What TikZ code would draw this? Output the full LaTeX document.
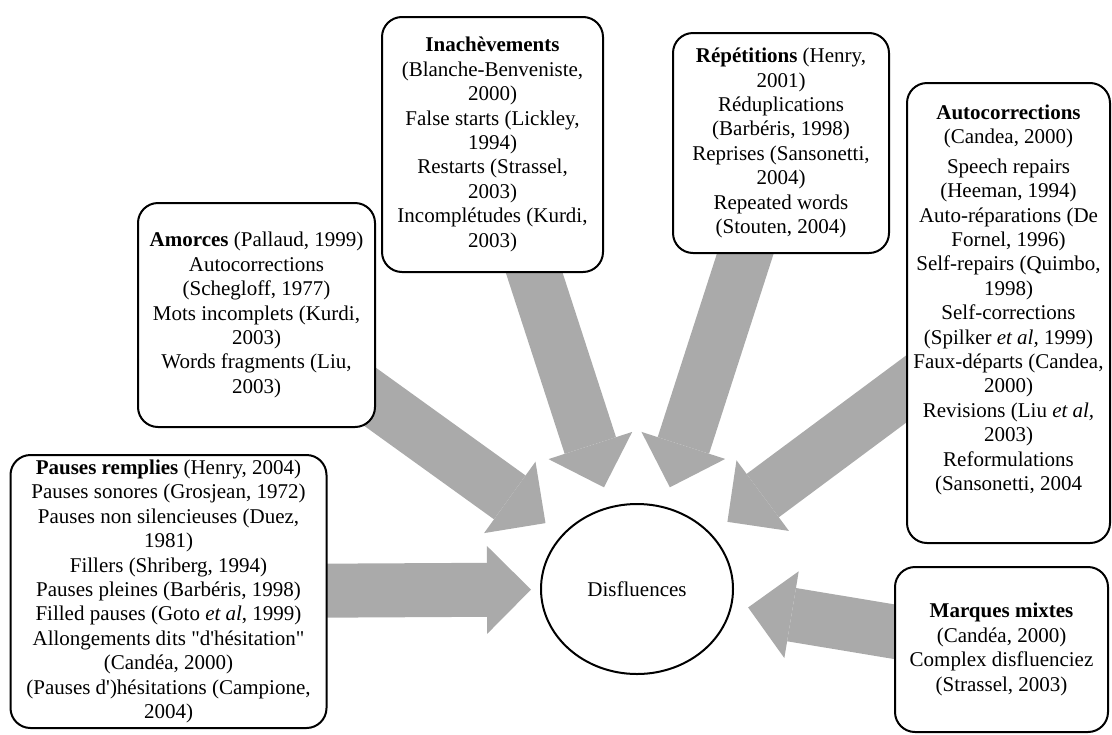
\documentclass[tikz,border=0pt]{standalone}
\usepackage{fontspec}
\setmainfont{Liberation Serif}
\usetikzlibrary{arrows.meta,shapes.geometric,backgrounds}
\definecolor{arrowgray}{RGB}{170,170,170}

\begin{document}
\begin{tikzpicture}[x=0.5pt, y=-0.5pt,
    font=\fontsize{10.5pt}{12.2pt}\selectfont,
    sourcebox/.style={draw, line width=1pt, rounded corners=10pt, fill=white, align=center, inner sep=2pt},
    bigarrow/.style={draw=arrowgray, line width=27pt, -{Triangle[length=22pt, width=44pt, line width=0pt]}, shorten >=10pt}]
    \useasboundingbox (0,0) rectangle (1112,734);

    % Central term
    \node[draw, ellipse, line width=1pt, fill=white, minimum width=96pt, minimum height=85pt] (disfl) at (637,589) {Disfluences};

    % Terms found in the literature
    \node[sourcebox, minimum width=158pt, minimum height=136.5pt] (pauses) at (168.5,591.5) {%
        \textbf{Pauses remplies} (Henry, 2004)\\
        Pauses sonores (Grosjean, 1972)\\
        Pauses non silencieuses (Duez,\\
        1981)\\
        Fillers (Shriberg, 1994)\\
        Pauses pleines (Barbéris, 1998)\\
        Filled pauses (Goto \textit{et al}, 1999)\\
        Allongements dits \textquotedbl d\textquotesingle hésitation\textquotedbl\\
        (Candéa, 2000)\\
        (Pauses d\textquotesingle)hésitations (Campione,\\
        2004)};

    \node[sourcebox, minimum width=118.5pt, minimum height=112pt] (amorces) at (256.5,315) {%
        \textbf{Amorces} (Pallaud, 1999)\\
        Autocorrections\\
        (Schegloff, 1977)\\
        Mots incomplets (Kurdi,\\
        2003)\\
        Words fragments (Liu,\\
        2003)};

    \node[sourcebox, minimum width=110.5pt, minimum height=127.5pt] (inach) at (492.5,144.5) {%
        \textbf{Inachèvements}\\
        (Blanche-Benveniste,\\
        2000)\\
        False starts (Lickley,\\
        1994)\\
        Restarts (Strassel,\\
        2003)\\
        Incomplétudes (Kurdi,\\
        2003)};

    \node[sourcebox, minimum width=108pt, minimum height=110pt] (repet) at (781,143) {%
        \textbf{Répétitions} (Henry,\\
        2001)\\
        Réduplications\\
        (Barbéris, 1998)\\
        Reprises (Sansonetti,\\
        2004)\\
        Repeated words\\
        (Stouten, 2004)};

    \node[sourcebox, minimum width=101.5pt, minimum height=230pt] (autoc) at (1008.5,313) {};
    \node[align=center, inner sep=0pt] (autoctext) at (1008.5,300) {%
        \textbf{Autocorrections}\\
        (Candea, 2000)\\[2.5pt]
        Speech repairs\\
        (Heeman, 1994)\\
        Auto-réparations (De\\
        Fornel, 1996)\\
        Self-repairs (Quimbo,\\
        1998)\\
        Self-corrections\\
        (Spilker \textit{et al,} 1999)\\
        Faux-départs (Candea,\\
        2000)\\
        Revisions (Liu \textit{et al,}\\
        2003)\\
        Reformulations\\
        (Sansonetti, 2004};

    \node[sourcebox, minimum width=106.5pt, minimum height=82.5pt] (marques) at (1001.5,649.5) {%
        \textbf{Marques mixtes}\\
        (Candéa, 2000)\\
        Complex disfluenciez\\
        (Strassel, 2003)};

    % Block arrows pointing to the central term
    \begin{pgfonlayer}{background}
        \draw[bigarrow, shorten >=4.5pt] (pauses.center) -- (disfl);
        \draw[bigarrow] (amorces.center) -- (disfl);
        \draw[bigarrow] (inach.center) -- (disfl);
        \draw[bigarrow] (repet.center) -- (disfl);
        \draw[bigarrow] (autoc.center) -- (disfl);
        \draw[bigarrow, shorten >=8pt] (marques.center) -- (disfl);
    \end{pgfonlayer}
\end{tikzpicture}
\end{document}
